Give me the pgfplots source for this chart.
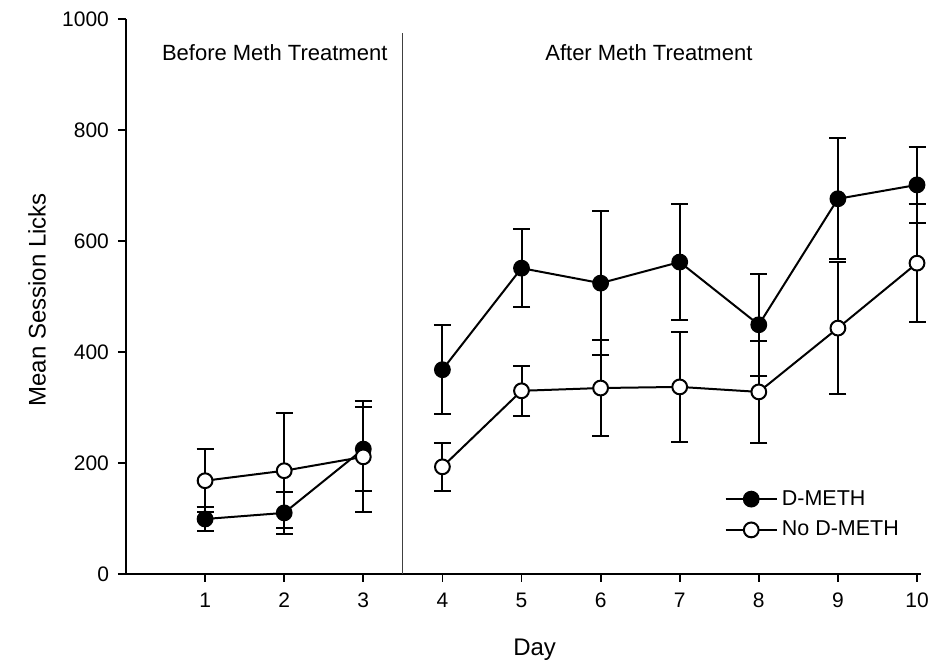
\documentclass[border=0pt]{standalone}
\usepackage{pgfplots}
\pgfplotsset{compat=1.18}
\usepackage{pgfplotstable}
\usepackage{fontspec}
\setmainfont{Liberation Sans}

% day, mean, sem (the nan row breaks the line between the two phases)
\pgfplotstableread{
day mean err
1 99 22
2 110 38
3 225 75
3.5 nan nan
4 368 80
5 551 70
6 524 130
7 562 105
8 449 92
9 676 109
10 701 69
}\dmeth
\pgfplotstableread{
day mean err
1 168 57
2 186 104
3 211 100
3.5 nan nan
4 193 43
5 330 45
6 335 87
7 337 99
8 328 92
9 443 119
10 560 106
}\nodmeth

\begin{document}
\begin{tikzpicture}
\begin{axis}[
  scale only axis,
  width=397.5pt, height=277.5pt,
  xmin=0, xmax=10.05, ymin=0, ymax=1000,
  axis x line=bottom, axis y line=left,
  axis line style={-, line width=1pt},
  xtick={1,...,10},
  ytick={0,200,...,1000},
  tick align=outside,
  major tick length=4pt,
  tick style={line width=0.9pt, black},
  /pgf/number format/assume math mode=true,
  /pgf/number format/1000 sep={},
  tick label style={font=\fontsize{10.5}{12}\selectfont},
  xticklabel style={yshift=-2pt},
  yticklabel style={xshift=-1pt},
  xlabel={Day},
  ylabel={Mean Session Licks},
  label style={font=\fontsize{12}{14}\selectfont},
  xlabel style={at={(rel axis cs:0.514,-0.137)}, anchor=center},
  ylabel style={at={(rel axis cs:-0.112,0.494)}, anchor=center},
  clip=false,
  unbounded coords=jump,
  legend style={draw=none, fill=none, at={(rel axis cs:0.745,0.166)}, anchor=north west,
    font=\fontsize{10.75}{13}\selectfont, row sep=2.5pt, cells={anchor=west}},
  legend image code/.code={%
    \draw[mark repeat=2, mark phase=2, #1] plot coordinates {(0cm,0cm) (0.45cm,0cm) (0.9cm,0cm)};},
  error bars/error bar style={line width=1pt},
  error bars/error mark options={rotate=90, mark size=4.25pt, line width=1pt},
]
% phase divider
\draw[line width=0.6pt, black!75] (axis cs:3.5,0) -- (axis cs:3.5,975);
\node[font=\fontsize{11}{13}\selectfont] at (axis cs:1.88,940) {Before Meth Treatment};
\node[font=\fontsize{11}{13}\selectfont] at (axis cs:6.61,940) {After Meth Treatment};

\addplot[black, line width=1pt, mark=*, mark size=3.7pt, mark options={fill=black},
  error bars/.cd, y dir=both, y explicit]
  table[x=day, y=mean, y error=err] {\dmeth};
\addlegendentry{D-METH}

\addplot[black, line width=1pt, mark=*, mark size=3.7pt, mark options={fill=white},
  error bars/.cd, y dir=both, y explicit]
  table[x=day, y=mean, y error=err] {\nodmeth};
\addlegendentry{No D-METH}

% page extent
\path (rel axis cs:-0.1585,-0.1622) rectangle (rel axis cs:1.0189,1.0342);
\end{axis}
\end{tikzpicture}
\end{document}
